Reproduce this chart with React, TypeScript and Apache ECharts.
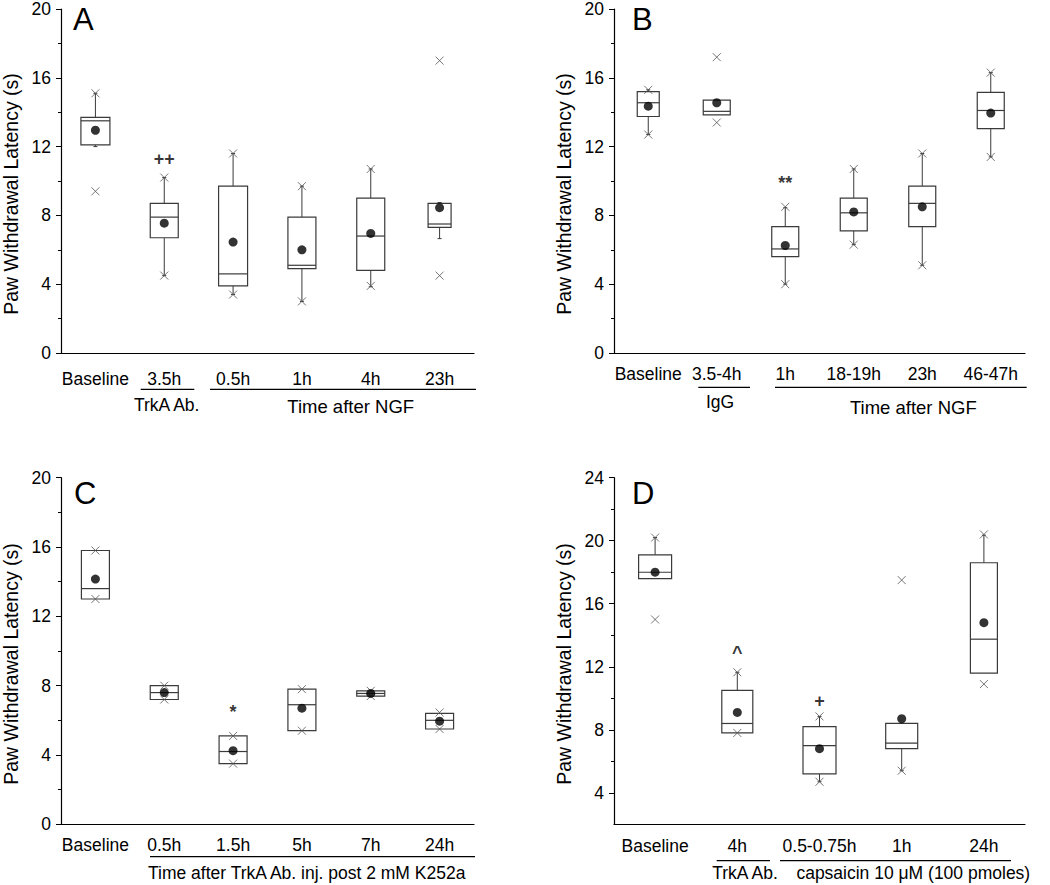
import React, { useEffect, useRef } from 'react';
import * as echarts from 'echarts';

// ---------- data ----------
// box rows: [lower whisker, Q1, median, Q3, upper whisker]
const catsA = ['Baseline', '3.5h', '0.5h', '1h', '4h', '23h'];
const boxA = [
  [12.0, 12.1, 13.5, 13.7, 15.1],
  [4.5, 6.7, 7.9, 8.7, 10.2],
  [3.4, 3.9, 4.6, 9.7, 11.6],
  [3.0, 4.9, 5.1, 7.9, 9.7],
  [3.85, 4.8, 6.8, 9.0, 10.7],
  [6.65, 7.3, 7.5, 8.7, 8.75],
];
const meanA = [12.95, 7.55, 6.45, 6.0, 6.95, 8.45];
const crossA = [[15.1, 9.4], [10.2, 4.5], [11.6, 3.4], [9.7, 3.0], [10.7, 3.9], [17.0, 4.5]];
const annotA = [['3.5h', 11.3, '++']];

const catsB = ['Baseline', '3.5-4h', '1h', '18-19h', '23h', '46-47h'];
const boxB = [
  [12.7, 13.75, 14.55, 15.2, 15.3],
  [13.85, 13.85, 14.05, 14.7, 14.7],
  [4.0, 5.6, 6.05, 7.35, 8.45],
  [6.3, 7.1, 8.15, 9.0, 10.7],
  [5.1, 7.35, 8.7, 9.7, 11.6],
  [11.4, 13.05, 14.1, 15.15, 16.3],
];
const meanB = [14.35, 14.55, 6.25, 8.2, 8.5, 13.95];
const crossB = [[15.3, 12.7], [17.2, 13.4], [8.5, 4.0], [10.7, 6.3], [11.6, 5.1], [16.3, 11.4]];
const annotB = [['1h', 9.9, '**']];

const catsC = ['Baseline', '0.5h', '1.5h', '5h', '7h', '24h'];
const boxC = [
  [13.0, 13.0, 13.6, 15.8, 15.8],
  [7.2, 7.2, 7.6, 8.0, 8.0],
  [3.5, 3.5, 4.2, 5.1, 5.1],
  [5.4, 5.4, 6.9, 7.8, 7.8],
  [7.4, 7.4, 7.55, 7.7, 7.7],
  [5.5, 5.5, 6.0, 6.4, 6.4],
];
const meanC = [14.15, 7.6, 4.25, 6.7, 7.55, 5.95];
const crossC = [[15.8, 13.0], [8.0, 7.2], [5.1, 3.5], [7.8, 5.4], [7.7, 7.4], [6.45, 5.5]];
const annotC = [['1.5h', 6.5, '*']];

const catsD = ['Baseline', '4h', '0.5-0.75h', '1h', '24h'];
const boxD = [
  [17.6, 17.6, 18.0, 19.1, 20.2],
  [7.8, 7.8, 8.4, 10.5, 11.65],
  [4.7, 5.2, 7.0, 8.2, 8.85],
  [5.4, 6.8, 7.15, 8.4, 8.4],
  [11.6, 11.6, 13.75, 18.6, 20.35],
];
const meanD = [18.0, 9.1, 6.8, 8.7, 14.8];
const crossD = [[20.2, 15.0], [11.65, 7.8], [8.85, 4.7], [17.5, 5.4], [20.4, 10.9]];
const annotD = [['4h', 12.9, '^'], ['0.5-0.75h', 9.8, '+']];

const ticksMain = [0, 4, 8, 12, 16, 20];
const ticksD = [4, 8, 12, 16, 20, 24];
const ticksDMinor = [6, 10, 14, 18, 22];

// ---------- styles ----------
const FONT = '"Liberation Sans", Arial, sans-serif';
const boxWidthA = [29, 28, 29, 28, 28, 23];
const boxWidthB = [22, 27, 27, 27, 27, 27];
const boxWidthC = [28, 28, 28, 28, 28, 28];
const boxWidthD = [33, 31, 33, 32, 27];

function panelSeries(idx: number, cats: string[], box: number[][], mean: number[], cross: number[][], annot: any[], widths: number[]) {
  const boxData = box.map((b, i) => [i, ...b]);
  const crossData: number[][] = [];
  cross.forEach((arr, i) => arr.forEach((v) => crossData.push([i, v])));
  const meanData = mean.map((m, i) => [i, m]);
  const annData = annot.map((a) => ({ value: [cats.indexOf(a[0]), a[1]], name: a[2] }));
  return [
    {
      type: 'custom',
      xAxisIndex: idx,
      yAxisIndex: idx,
      data: boxData,
      encode: { x: 0, y: [1, 2, 3, 4, 5] },
      z: 2,
      renderItem: (params: any, api: any) => {
        const i = api.value(0);
        const pLow = api.coord([i, api.value(1)]);
        const pQ1 = api.coord([i, api.value(2)]);
        const pMed = api.coord([i, api.value(3)]);
        const pQ3 = api.coord([i, api.value(4)]);
        const pHigh = api.coord([i, api.value(5)]);
        const hw = widths[params.dataIndex] / 2;
        const cx = pMed[0];
        const stroke = '#3a3a3a';
        const ls = { stroke, lineWidth: 1, fill: 'none' };
        const children: any[] = [];
        if (pQ3[1] - pHigh[1] > 0.5) {
          children.push({ type: 'line', shape: { x1: cx, y1: pQ3[1], x2: cx, y2: pHigh[1] }, style: ls });
          children.push({ type: 'line', shape: { x1: cx - 2, y1: pHigh[1], x2: cx + 2, y2: pHigh[1] }, style: ls });
        }
        if (pLow[1] - pQ1[1] > 0.5) {
          children.push({ type: 'line', shape: { x1: cx, y1: pQ1[1], x2: cx, y2: pLow[1] }, style: ls });
          children.push({ type: 'line', shape: { x1: cx - 2, y1: pLow[1], x2: cx + 2, y2: pLow[1] }, style: ls });
        }
        children.push({
          type: 'rect',
          shape: { x: cx - hw, y: pQ3[1], width: 2 * hw, height: pQ1[1] - pQ3[1] },
          style: { fill: '#fff', stroke, lineWidth: 1.2 },
        });
        children.push({ type: 'line', shape: { x1: cx - hw, y1: pMed[1], x2: cx + hw, y2: pMed[1] }, style: { stroke, lineWidth: 1.2 } });
        return { type: 'group', children };
      },
    },
    {
      type: 'scatter',
      xAxisIndex: idx,
      yAxisIndex: idx,
      data: crossData,
      symbol: 'path://M0,0L10,10M0,10L10,0',
      symbolSize: 8,
      z: 3,
      itemStyle: { color: 'rgba(0,0,0,0)', borderColor: '#555', borderWidth: 1 },
    },
    {
      type: 'scatter',
      xAxisIndex: idx,
      yAxisIndex: idx,
      data: meanData,
      symbol: 'circle',
      symbolSize: 9,
      z: 4,
      itemStyle: { color: '#000' },
    },
    {
      type: 'scatter',
      xAxisIndex: idx,
      yAxisIndex: idx,
      data: annData,
      symbolSize: 0,
      z: 5,
      label: {
        show: true,
        position: 'inside',
        formatter: (p: any) => p.name,
        fontSize: 18,
        fontWeight: 'bold',
        color: '#000',
        fontFamily: FONT,
      },
    },
  ];
}

function xAx(idx: number, cats: string[], margin: number) {
  return {
    type: 'category',
    gridIndex: idx,
    data: cats,
    boundaryGap: true,
    axisLine: { lineStyle: { color: '#000', width: 1.2 } },
    axisTick: { alignWithLabel: true, length: 5, lineStyle: { color: '#000' } },
    axisLabel: { interval: 0, margin, fontSize: 17.5, color: '#000', fontFamily: FONT },
    splitLine: { show: false },
  };
}

const yName = 'Paw Withdrawal Latency (s)';
function yAx(idx: number) {
  return {
    type: 'value',
    gridIndex: idx,
    position: 'left',
    min: 0,
    max: 20,
    interval: 4,
    name: yName,
    nameLocation: 'middle',
    nameGap: 40,
    nameTextStyle: { fontSize: 19.5, color: '#000', fontFamily: FONT, padding: [0, 26, 0, 0] },
    axisLine: { show: true, lineStyle: { color: '#000', width: 1.2 } },
    axisTick: { show: true, length: 5, lineStyle: { color: '#000' } },
    minorTick: { show: true, splitNumber: 2, length: 3, lineStyle: { color: '#000' } },
    axisLabel: { margin: 10, fontSize: 17.5, color: '#000', fontFamily: FONT, customValues: ticksMain },
    splitLine: { show: false },
    minorSplitLine: { show: false },
  };
}

function textEl(x: number, y: number, text: string, size: number, align = 'center') {
  return {
    type: 'text',
    x,
    y,
    style: { text, fontSize: size, fontFamily: FONT, fill: '#000', textAlign: align, textVerticalAlign: 'middle' },
  };
}
function lineEl(x1: number, x2: number, y: number) {
  return { type: 'line', shape: { x1, y1: y, x2, y2: y }, style: { stroke: '#000', lineWidth: 1.2 } };
}

export default function App() {
  const ref = useRef<HTMLDivElement>(null);
  useEffect(() => {
    document.body.style.margin = '0';
    const chart = echarts.init(ref.current!, undefined, { renderer: 'svg' });
    const option: any = {
      animation: false,
      backgroundColor: '#fff',
      grid: [
        { left: 57.5, top: 7, width: 416.5, height: 346 },
        { left: 614, top: 7, width: 411, height: 346 },
        { left: 57.5, top: 477.7, width: 416.5, height: 346.6 },
        { left: 614, top: 477.7, width: 411, height: 346.6 },
      ],
      xAxis: [xAx(0, catsA, 17), xAx(1, catsB, 12), xAx(2, catsC, 12), xAx(3, catsD, 13)],
      yAxis: [
        yAx(0),
        yAx(1),
        yAx(2),
        {
          ...yAx(3),
          min: 2,
          max: 24,
          interval: 2,
          minorTick: { show: false },
          axisTick: { show: true, length: 5, lineStyle: { color: '#000' }, customValues: ticksD },
          axisLabel: { margin: 10, fontSize: 17.5, color: '#000', fontFamily: FONT, customValues: ticksD },
        },
        {
          type: 'value',
          gridIndex: 3,
          position: 'left',
          offset: 0,
          min: 2,
          max: 24,
          interval: 2,
          axisLine: { show: false },
          axisLabel: { show: false },
          axisTick: { show: true, length: 3, lineStyle: { color: '#000' }, customValues: ticksDMinor },
          splitLine: { show: false },
        },
      ],
      series: [
        ...panelSeries(0, catsA, boxA, meanA, crossA, annotA, boxWidthA),
        ...panelSeries(1, catsB, boxB, meanB, crossB, annotB, boxWidthB),
        ...panelSeries(2, catsC, boxC, meanC, crossC, annotC, boxWidthC),
        ...panelSeries(3, catsD, boxD, meanD, crossD, annotD, boxWidthD),
      ],
      graphic: [
        textEl(73, 19, 'A', 31, 'left'),
        textEl(632, 19, 'B', 31, 'left'),
        textEl(74, 493, 'C', 31, 'left'),
        textEl(632, 493, 'D', 31, 'left'),
        // panel A groups
        lineEl(140.7, 194.3, 389.3),
        textEl(166.7, 405, 'TrkA Ab.', 17.5),
        lineEl(210, 476, 389.3),
        textEl(350.7, 406.5, 'Time after NGF', 18.5),
        // panel B groups
        lineEl(698.3, 750, 387.3),
        textEl(720, 401.7, 'IgG', 17.5),
        lineEl(775, 1026.7, 387.3),
        textEl(913.3, 407.3, 'Time after NGF', 18.5),
        // panel C groups
        lineEl(150, 475, 856.7),
        textEl(306.7, 873.3, 'Time after TrkA Ab. inj. post 2 mM K252a', 17.5),
        // panel D groups
        lineEl(716.7, 770, 860.7),
        textEl(745, 873.3, 'TrkA Ab.', 17.5),
        lineEl(780, 1011, 860.7),
        textEl(913.3, 873.3, 'capsaicin 10 μM (100 pmoles)', 17.5),
      ],
    };
    chart.setOption(option);
    return () => chart.dispose();
  }, []);
  return <div ref={ref} style={{ width: 1050, height: 885 }} />;
}
